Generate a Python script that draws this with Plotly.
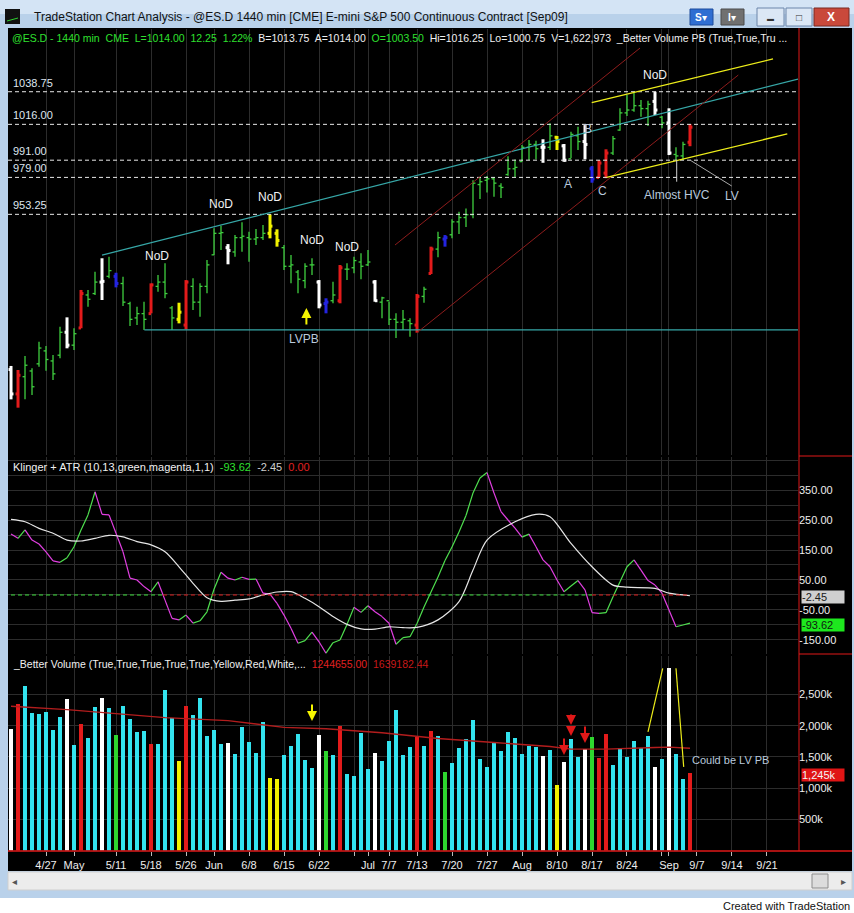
import plotly.graph_objects as go

W, H = 854, 913


def px(x):
    return x / W


def py(y):
    return 1 - y / H


# ---- data (x = session index, 0 = 4/20/2009) ----
tick_idx = [5, 9, 15, 20, 25, 29, 34, 39, 44, 49, 51, 54, 58, 63, 68, 73, 78, 83, 88, 93, 94, 98, 103, 108]
tick_txt = ["4/27", "May", "5/11", "5/18", "5/26", "Jun", "6/8", "6/15", "6/22", "", "Jul", "7/7", "7/13",
            "7/20", "7/27", "Aug", "8/10", "8/17", "8/24", "", "Sep", "9/7", "9/14", "9/21"]

highs = [847.5, 844.7, 854.4, 845.9, 864.4, 861.4, 855.1, 874.9, 881.4, 873.8,
         900.5, 900.5, 913.2, 922.6, 923.7, 912.5, 909.7, 892.3, 888.8, 892.3,
         905.1, 910.9, 919.1, 889.3, 891.6, 907.4, 908.6, 905.1, 921.4, 943.5,
         945.3, 932.5, 938.8, 947.7, 941.1, 943.0, 945.8, 953.25, 942.8, 931.9,
         924.9, 914.4, 919.1, 922.6, 907.4, 894.7, 906.3, 917.9, 919.1, 923.7,
         926.1, 928.4, 907.4, 895.8, 892.3, 884.2, 886.5, 880.7, 897.7, 902.8,
         930.7, 941.1, 938.8, 949.8, 955.1, 957.4, 977.0, 979.3, 980.0, 979.3,
         974.9, 993.7, 991.4, 1001.6, 1005.1, 1004.6, 1005.6, 1016.7, 1007.9, 1002.3,
         1010.9, 1014.3, 1015.5, 986.9, 991.1, 998.6, 1007.9, 1027.2, 1036.5, 1038.0,
         1033.0, 1032.5, 1038.75, 1021.8, 1027.2, 1000.0, 1003.9, 1016.25]
lows = [824.2, 818.4, 824.2, 827.2, 847.0, 844.2, 837.7, 852.8, 859.8, 858.6,
        873.8, 888.8, 897.0, 893.5, 908.6, 902.3, 889.3, 875.4, 876.1, 872.6,
        884.2, 899.3, 894.7, 872.6, 877.2, 873.0, 886.5, 881.9, 898.2, 924.9,
        928.4, 918.4, 923.7, 927.2, 920.2, 931.9, 935.3, 936.5, 930.7, 914.4,
        905.1, 898.2, 901.7, 910.9, 887.7, 884.2, 891.2, 891.2, 907.4, 912.1,
        907.9, 917.2, 892.3, 880.7, 876.1, 867.0, 872.6, 867.9, 870.7, 891.6,
        911.6, 923.3, 930.7, 936.5, 939.5, 944.4, 950.5, 963.9, 968.5, 965.5,
        964.6, 980.1, 979.3, 989.9, 991.1, 991.6, 989.2, 998.1, 998.1, 989.9,
        992.3, 998.1, 991.6, 975.3, 979.1, 978.4, 994.6, 1011.6, 1021.8, 1024.8,
        1021.3, 1014.8, 1022.5, 1013.2, 994.6, 991.1, 991.1, 1000.75]
opens = [845.0, 828.0, 840.0, 844.0, 849.0, 858.0, 851.0, 855.0, 871.0, 862.0,
         874.0, 897.0, 898.0, 906.0, 910.0, 910.0, 905.0, 891.0, 881.0, 884.0,
         884.0, 903.0, 906.0, 888.0, 880.0, 876.0, 903.0, 892.0, 903.0, 925.0,
         940.0, 930.0, 927.0, 937.0, 937.0, 936.0, 937.0, 940.0, 940.0, 930.0,
         917.0, 913.0, 907.0, 918.0, 906.0, 891.0, 893.0, 893.0, 915.0, 916.0,
         920.0, 918.0, 906.0, 892.0, 893.0, 880.0, 878.0, 879.0, 876.0, 896.0,
         912.0, 929.0, 936.0, 939.0, 948.0, 951.0, 953.0, 974.0, 977.0, 978.0,
         973.0, 981.0, 985.0, 990.0, 1000.0, 1002.0, 1000.0, 1000.0, 1007.0, 1001.0,
         992.0, 1008.0, 1004.0, 985.0, 979.0, 982.0, 996.0, 1012.0, 1024.0, 1026.0,
         1029.0, 1027.0, 1032.0, 1021.0, 1017.0, 995.0, 994.0, 1003.5]
closes = [828.0, 841.0, 848.0, 833.0, 860.0, 852.0, 842.0, 871.0, 862.0, 870.0,
          898.0, 894.0, 906.0, 906.5, 914.0, 905.0, 892.0, 880.0, 884.0, 880.0,
          904.0, 906.0, 898.0, 881.0, 885.0, 906.0, 892.0, 903.0, 918.0, 940.0,
          940.5, 928.0, 937.0, 938.0, 936.0, 937.0, 940.0, 945.0, 935.0, 917.0,
          918.0, 908.0, 917.0, 918.0, 890.0, 892.0, 897.0, 916.0, 915.0, 921.0,
          917.0, 920.0, 893.0, 895.0, 880.0, 878.0, 880.0, 877.0, 896.0, 901.0,
          929.0, 937.0, 937.0, 948.0, 951.0, 953.0, 975.0, 976.0, 978.0, 975.0,
          972.0, 985.0, 986.0, 1000.0, 1002.0, 999.0, 1000.0, 1008.0, 1004.0, 991.0,
          1009.0, 1004.0, 1002.0, 978.0, 989.0, 996.0, 1006.0, 1024.0, 1026.0, 1029.0,
          1027.0, 1030.0, 1026.0, 1017.0, 996.0, 994.0, 1002.0, 1014.0]
# bar class from _Better Volume: n = normal, w = climax, r = high vol churn, b = low vol, y = low vol churn
bar_class = list("wrnnnnnnwnrnnwnbnnnnrnnnyrnnnnnwnnnnnyynnnnnwbnrnnnnwnnnnnrnrnb"
                 "nnnnnnnnnnnnnwnywnnwbrrnnnnnnwnwnnr")

volume_k = [1952, 2355, 2629, 2205, 2194, 2226, 1936, 2145, 2425, 1683,
            2022, 1807, 2307, 2452, 2280, 1855, 2323, 2113, 1903, 1920,
            1710, 1710, 2565, 2129, 1436, 2312, 2178, 2436, 1828, 1936,
            1710, 1726, 1548, 1986, 1742, 1565, 2065, 1161, 1145, 1532,
            1678, 1871, 1452, 1323, 1855, 1597, 1532, 2000, 1226, 1194,
            1887, 1307, 1565, 1436, 1758, 2258, 1532, 1661, 1823, 1678,
            1920, 1839, 1258, 1403, 1645, 1790, 2097, 1468, 1339, 1742,
            1597, 1903, 1807, 1548, 1678, 1661, 1516, 1613, 1048, 1419,
            1790, 1500, 1629, 1823, 1484, 1871, 1371, 1645, 1500, 1758,
            1645, 1839, 1339, 1468, 2930, 1548, 1145, 1245]
vol_avg_idx = [0, 8, 22, 31, 39, 45, 53, 61, 69, 77, 80, 85, 92, 94, 97]
vol_avg_k = [2311, 2258, 2129, 2081, 1973, 1952, 1887, 1796, 1731, 1667, 1624, 1624, 1650, 1656, 1639]

klinger = [203, 189, 217, 183, 170, 144, 114, 109, 124, 161,
           217, 267, 344, 269, 267, 206, 144, 56, 50, 28,
           11, 44, -17, -78, -83, -67, -94, -86, -56, 19,
           76, 56, 50, 59, 52, 53, 6, 3, -28, -67,
           -111, -161, -152, -124, -156, -194, -159, -150, -98, -41,
           -58, -36, -56, -72, -94, -164, -142, -139, -95, -40,
           10, 60, 115, 160, 210, 265, 340, 390, 408, 340,
           278, 250, 223, 193, 203, 161, 117, 94, 50, 11,
           30, 48, 17, -59, -61, -59, -6, 44, 94, 117,
           83, 48, 33, 6, -50, -106, -100, -93.62]
signal_idx = [0, 2, 4, 6, 8, 10, 12, 14, 16, 18, 20, 22, 24, 26, 28, 30, 32, 34, 36, 38, 40, 42, 44,
              46, 48, 50, 52, 54, 56, 58, 61, 64, 66, 68, 72, 75, 77, 80, 83, 86, 88, 92, 94, 97]
signal = [252, 244, 222, 206, 183, 180, 189, 199, 194, 178, 167, 144, 94, 39, -9, -21, -17, -13, 0, 10, 11,
          -11, -39, -72, -98, -113, -114, -106, -109, -108, -83, -22, 83, 183, 244, 269, 261, 172, 94,
          33, 26, 22, 6, -2.45]
# zero line colour switches (session index where colour changes)
zero_breaks = [0, 21.7, 59.5, 83, 97]
zero_colors = ["#3ee03e", "#e02020", "#3ee03e", "#e02020"]

price_levels = [1038.75, 1016.00, 991.00, 979.00, 953.25]

# ---- colours ----
GRID = "#2c2c2c"
PRICE_COL = {"n": "#3fcf3f", "w": "#ffffff", "r": "#e31b1b", "b": "#2424e0", "y": "#f2f200"}
VOL_COL = {"n": "#33e3ef", "w": "#ffffff", "r": "#e31b1b", "b": "#2ed62e", "y": "#f2f200"}
TXT = "#dfe6ef"
LBL = "#b9c9dd"
FONT = "Liberation Sans"
GRN, WHT, RED = "#2fe02f", "#f0f0f0", "#e02020"

n = len(highs)
xs_all = list(range(n))

fig = go.Figure()

# price bars, one trace per colour class
for cls, col in PRICE_COL.items():
    bx, by = [], []
    for i in xs_all:
        if bar_class[i] != cls:
            continue
        bx += [i, i, None, i - 0.35, i, None, i, i + 0.35, None]
        by += [lows[i], highs[i], None, opens[i], opens[i], None, closes[i], closes[i], None]
    fig.add_trace(go.Scatter(x=bx, y=by, mode="lines", line=dict(color=col, width=1.3 if cls == "n" else 3),
                             hoverinfo="skip", xaxis="x", yaxis="y"))

# Klinger oscillator coloured by direction
for col, up in (("#4fe04f", True), ("#e23fe2", False)):
    kx, ky = [], []
    for i in range(1, n):
        if (klinger[i] >= klinger[i - 1]) == up:
            kx += [i - 1, i, None]
            ky += [klinger[i - 1], klinger[i], None]
    fig.add_trace(go.Scatter(x=kx, y=ky, mode="lines", line=dict(color=col, width=1.2),
                             hoverinfo="skip", xaxis="x2", yaxis="y2"))
fig.add_trace(go.Scatter(x=signal_idx, y=signal, mode="lines", line=dict(color="#e6e6e6", width=1.2, shape="spline", smoothing=0.8),
                         hoverinfo="skip", xaxis="x2", yaxis="y2"))
for k, col in enumerate(zero_colors):
    fig.add_trace(go.Scatter(x=[zero_breaks[k], zero_breaks[k + 1]], y=[0, 0], mode="lines",
                             line=dict(color=col, width=1, dash="4px,3px"), hoverinfo="skip",
                             xaxis="x2", yaxis="y2"))

# volume
fig.add_trace(go.Bar(x=xs_all, y=volume_k, width=0.45, marker=dict(color=[VOL_COL[c] for c in bar_class], line_width=0),
                     hoverinfo="skip", xaxis="x3", yaxis="y3"))
fig.add_trace(go.Scatter(x=vol_avg_idx, y=vol_avg_k, mode="lines", line=dict(color="#b31d1d", width=1.4),
                         hoverinfo="skip", xaxis="x3", yaxis="y3"))

# ---- frame / window chrome ----
shapes = [
    dict(type="rect", xref="paper", yref="paper", x0=0, x1=1, y0=py(898), y1=1, fillcolor="#b9d1ea", line_width=0, layer="below"),
    dict(type="rect", xref="paper", yref="paper", x0=0, x1=1, y0=py(14), y1=1, fillcolor="#d4e4f5", line_width=0, layer="below"),
    dict(type="rect", xref="paper", yref="paper", x0=px(8), x1=px(852), y0=py(871), y1=py(28), fillcolor="#000000", line_width=0, layer="below"),
    dict(type="rect", xref="paper", yref="paper", x0=px(8), x1=px(852), y0=py(890), y1=py(872), fillcolor="#ececec", line=dict(color="#cfcfcf", width=1), layer="below"),
    dict(type="rect", xref="paper", yref="paper", x0=px(812), x1=px(828), y0=py(888), y1=py(874), fillcolor="#dcdcdc", line=dict(color="#8c8c8c", width=1), layer="below"),
    dict(type="rect", xref="paper", yref="paper", x0=px(5), x1=px(20), y0=py(24), y1=py(9), fillcolor="#111111", line_width=0),
    dict(type="line", xref="paper", yref="paper", x0=px(7), x1=px(18), y0=py(21), y1=py(18), line=dict(color="#30d030", width=1)),
    # title bar buttons
    dict(type="rect", xref="paper", yref="paper", x0=px(690), x1=px(713), y0=py(25), y1=py(9), fillcolor="#2f6ed2", line=dict(color="#1c4a9a", width=1)),
    dict(type="rect", xref="paper", yref="paper", x0=px(721), x1=px(744), y0=py(25), y1=py(9), fillcolor="#707070", line=dict(color="#4a4a4a", width=1)),
    dict(type="rect", xref="paper", yref="paper", x0=px(757), x1=px(784), y0=py(26), y1=py(8), fillcolor="#dbe7f5", line=dict(color="#6c86aa", width=1)),
    dict(type="rect", xref="paper", yref="paper", x0=px(786), x1=px(812), y0=py(26), y1=py(8), fillcolor="#dbe7f5", line=dict(color="#6c86aa", width=1)),
    dict(type="rect", xref="paper", yref="paper", x0=px(814), x1=px(849), y0=py(26), y1=py(8), fillcolor="#c9493b", line=dict(color="#7a2a22", width=1)),
    # red axis separators
    dict(type="line", xref="paper", yref="paper", x0=px(799), x1=px(799), y0=py(851), y1=py(28), line=dict(color="#e01818", width=1)),
    dict(type="line", xref="paper", yref="paper", x0=px(8), x1=px(852), y0=py(851), y1=py(851), line=dict(color="#e01818", width=1.5)),
    dict(type="line", xref="paper", yref="paper", x0=px(799), x1=px(852), y0=py(456), y1=py(456), line=dict(color="#e01818", width=1)),
    dict(type="line", xref="paper", yref="paper", x0=px(799), x1=px(852), y0=py(654), y1=py(654), line=dict(color="#e01818", width=1)),
]
for lv in price_levels:
    shapes.append(dict(type="line", xref="x domain", yref="y", x0=0, x1=1, y0=lv, y1=lv,
                       line=dict(color="#e8e8e8", width=1, dash="4px,3px")))

# hand-drawn chart lines (session index, price)
drawn = [
    (13, 924.8, 112.43, 1047.6, "#36a7a7", 1.2),
    (19.05, 872.6, 112.43, 872.6, "#36a7a7", 1.2),
    (54.86, 931.85, 89.86, 1069.2, "#8e1c1c", 1),
    (58, 870.7, 103.9, 1050.4, "#8e1c1c", 1),
    (82.96, 1031.1, 108.86, 1061.6, "#eded1a", 1.3),
    (85.1, 979.1, 110.9, 1009.3, "#eded1a", 1.3),
    (95.1, 991.1, 95.1, 976.0, "#d0d0d0", 1),
    (97, 991.1, 102.96, 973.0, "#a8a8a8", 1),
]
for x0, y0, x1, y1, col, w in drawn:
    shapes.append(dict(type="line", xref="x", yref="y", x0=x0, y0=y0, x1=x1, y1=y1, line=dict(color=col, width=w)))
for x0, y0, x1, y1 in [(91, 1900, 93.1, 2920), (95, 2920, 96.1, 1340)]:
    shapes.append(dict(type="line", xref="x3", yref="y3", x0=x0, y0=y0, x1=x1, y1=y1, line=dict(color="#eded1a", width=1.2)))

ann = []


def text(x, y, s, color=TXT, size=11, xanchor="left", family=FONT, **kw):
    ann.append(dict(xref="paper", yref="paper", x=px(x), y=py(y), text=s, showarrow=False, xanchor=xanchor,
                    yanchor="middle", font=dict(color=color, size=size, family=family), **kw))


def span(s, c):
    return f'<span style="color:{c}">{s}</span>'


SP = "&nbsp; "

text(32, 17, "TradeStation Chart Analysis - @ES.D 1440 min [CME] E-mini S&P 500 Continuous Contract [Sep09]",
     color="#111111", size=12)
text(701, 17, "<b>S</b>▾", color="#ffffff", size=10, xanchor="center")
text(732, 17, "<b>I</b>▾", color="#ffffff", size=10, xanchor="center")
text(770, 18, "<b>▬</b>", color="#333333", size=7, xanchor="center")
text(799, 17, "<b>□</b>", color="#333333", size=10, xanchor="center")
text(831, 17, "<b>X</b>", color="#ffffff", size=12, xanchor="center")

# status lines
header = SP.join([
    span("@ES.D - 1440 min", GRN), span("CME", GRN), span("L=1014.00", GRN), span("12.25", GRN),
    span("1.22%", GRN), span("B=1013.75", WHT), span("A=1014.00", WHT), span("O=1003.50", GRN),
    span("Hi=1016.25", WHT), span("Lo=1000.75", WHT), span("V=1,622,973", WHT),
    span("_Better Volume PB (True,True,Tru ...", WHT),
])
text(10, 38, header, color=WHT, size=10.5)
klinger_hdr = SP.join([span("Klinger + ATR (10,13,green,magenta,1,1)", WHT), span("-93.62", GRN),
                       span("-2.45", "#cfcfcf"), span("0.00", RED)])
text(11, 467, klinger_hdr, color=WHT, size=11)
vol_hdr = SP.join([span("_Better Volume (True,True,True,True,True,Yellow,Red,White,...", WHT),
                   span("1244655.00", RED), span("1639182.44", "#c81818")])
text(11, 664, vol_hdr, color=WHT, size=10.5)

text(690, 760, "Could be LV PB", color=LBL, size=11)

# last value boxes on the right scale
for y, s, bg, fc in [(597, "-2.45", "#cfcfcf", "#1a1a1a"), (625, "-93.62", "#1ee81e", "#102010"), (775, "1,245k", "#e01515", "#f4f4f4")]:
    text(801, y, s, color=fc, size=11, bgcolor=bg, width=42, align="left", borderpad=0)

text(14, 881, "◂", color="#555555", size=10, xanchor="center")
text(843, 881, "▸", color="#555555", size=10, xanchor="center")
text(852, 906, "Created with TradeStation", color="#111111", size=11, xanchor="right")

# price level labels
for lv in price_levels:
    ann.append(dict(xref="paper", yref="y", x=px(11), y=lv, text=f"{lv:.2f}", showarrow=False, xanchor="left",
                    yanchor="bottom", yshift=1, font=dict(color=TXT, size=11, family=FONT)))

# chart notes (session index, price)
for x, y, s, col in [(20.9, 924.2, "NoD", "#f2f2f2"), (30, 960.4, "NoD", "#f2f2f2"), (37, 965.3, "NoD", "#f2f2f2"),
                     (43, 935.3, "NoD", "#f2f2f2"), (48, 930.7, "NoD", "#f2f2f2"), (92, 1050.4, "NoD", "#f2f2f2"),
                     (41.9, 866.3, "LVPB", LBL), (79.5, 974.4, "A", LBL), (82.4, 1012.7, "B", LBL),
                     (84.5, 969.7, "C", LBL), (95.1, 966.7, "Almost HVC", LBL), (103, 966.0, "LV", LBL)]:
    ann.append(dict(xref="x", yref="y", x=x, y=y, text=s, showarrow=False, xanchor="center", yanchor="middle",
                    font=dict(color=col, size=12, family=FONT)))

# arrows: (index, head, tail, colour, axes)
arrows = [(42.2, 887.9, 875.4, "#f5f500", "y"), (43, 2075, 2364, "#f5f500", "y3"),
          (79, 1530, 1819, "#e01818", "y3"), (80, 2010, 2204, "#e01818", "y3"),
          (80, 1835, 2010, "#e01818", "y3"), (82, 1723, 2011, "#e01818", "y3")]
for x, head, tail, col, ya in arrows:
    xa = "x" if ya == "y" else "x3"
    ann.append(dict(xref=xa, yref=ya, x=x, y=head, ax=x, ay=tail, axref=xa, ayref=ya, text="", showarrow=True,
                    arrowhead=2, arrowsize=1, arrowwidth=2, arrowcolor=col))

xr = [-0.43, 112.43]
common_x = dict(range=xr, tickvals=tick_idx, showgrid=True, gridcolor=GRID, gridwidth=1, zeroline=False,
                showline=False, domain=[px(8), px(798)])
k_ticks = list(range(-150, 451, 50))

fig.update_layout(
    width=W, height=H, autosize=False, margin=dict(l=0, r=0, t=0, b=0),
    paper_bgcolor="#ffffff", plot_bgcolor="rgba(0,0,0,0)", showlegend=False,
    shapes=shapes, annotations=ann, bargap=0,
    xaxis=dict(common_x, anchor="y", showticklabels=False),
    xaxis2=dict(common_x, anchor="y2", matches="x", showticklabels=False),
    xaxis3=dict(common_x, anchor="y3", matches="x", ticktext=tick_txt, ticks="outside", ticklen=4,
                tickcolor="#bbbbbb", tickfont=dict(color="#eeeeee", size=11, family=FONT)),
    yaxis=dict(domain=[py(455), py(29)], range=[785.4, 1082.5], showticklabels=False, showgrid=False, zeroline=False),
    yaxis2=dict(domain=[py(654), py(457)], range=[-196.7, 460], side="right", anchor="x2",
                tickvals=k_ticks,
                ticktext=[f"{v:.2f}" if (v - 50) % 100 == 0 and v < 400 else "" for v in k_ticks],
                showgrid=True, gridcolor=GRID, zeroline=False, ticks="",
                tickfont=dict(color="#eeeeee", size=11, family=FONT)),
    yaxis3=dict(domain=[py(850.5), py(656)], range=[0, 3117], side="right", anchor="x3",
                tickvals=[500, 1000, 1500, 2000, 2500], ticktext=["500k", "1,000k", "1,500k", "2,000k", "2,500k"],
                showgrid=True, gridcolor=GRID, zeroline=False, ticks="",
                tickfont=dict(color="#eeeeee", size=11, family=FONT)),
)

fig.write_html("out.html", config={"displayModeBar": False},
               post_script="document.body.style.margin='0px';")
